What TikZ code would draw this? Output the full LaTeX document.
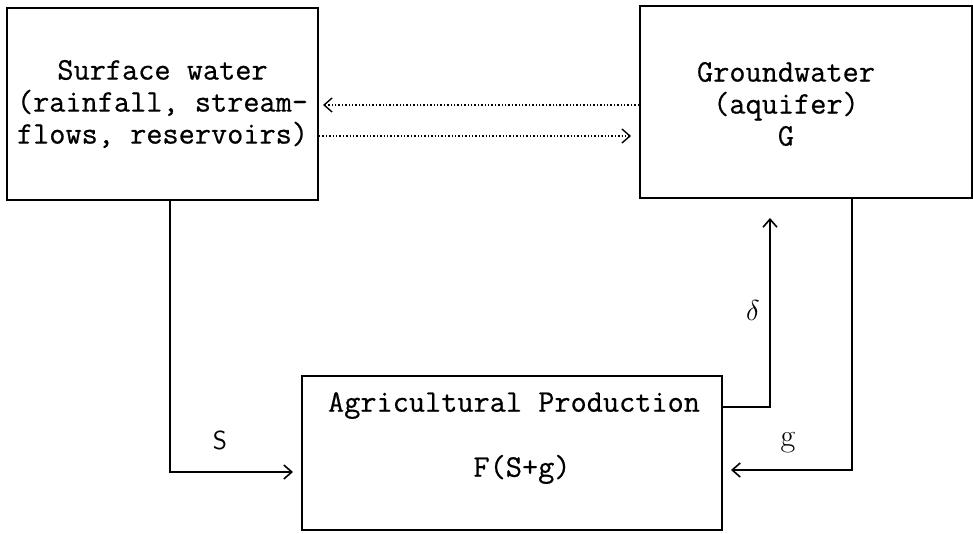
\documentclass[tikz,border=0pt]{standalone}
\usepackage{fontspec}
\usetikzlibrary{arrows.meta}

\newfontfamily\typewriter{Latin Modern Mono}[FakeBold=0.6]

\tikzset{
  box/.style={draw, line width=1pt, rectangle, inner sep=0pt},
  boxtext/.style={font=\fontsize{15.7}{16}\typewriter, align=center},
  flow/.style={line width=0.8pt, -{Straight Barb[length=4pt,width=7pt]}},
  seep/.style={flow, line width=0.7pt, densely dotted}
}

\begin{document}
\begin{tikzpicture}[x=0.5pt, y=-0.5pt]
        \useasboundingbox (0,0) rectangle (973,534);

        % Boxes
        \node[box, boxtext, minimum width=155.5pt, minimum height=96pt] (surface) at (162.5,104)
          {Surface water\\(rainfall, stream-\\flows, reservoirs)};
        \node[box, minimum width=166pt, minimum height=96pt] (gw) at (806,102) {};
        \node[boxtext] (gwtext) at (786,104) {Groundwater\\(aquifer)\\G};
        \node[box, minimum width=210pt, minimum height=77pt] (agri) at (512,453) {};
        \node[boxtext] (agritext) at (514,438) {Agricultural Production\\[16.5pt]\hspace*{8pt}F(S+g)};

        % Exchange between surface water and aquifer, dotted
        \draw[seep, shorten >=2pt] (gw.west |- 0,105) -- (surface.east |- 0,105);
        \draw[seep, shorten >=4pt] (surface.east |- 0,136) -- (gw.west |- 0,136);

        % Water use and percolation
        \draw[flow, shorten >=4pt] (surface.south -| 170,0) |- (agri.west |- 0,472);
        \draw[flow, shorten >=4pt] (gw.south -| 852,0) |- (agri.east |- 0,470);
        \draw[flow, shorten >=9.5pt] (agri.east |- 0,407) -| (gw.south -| 770,0);

        % Flow labels
        \node[font=\fontsize{13}{13}\sffamily] (slabel) at (220,440) {S};
        \node[font=\fontsize{16}{16}\rmfamily] (glabel) at (788,443) {g};
        \node[font=\fontsize{15}{15}\selectfont] (dlabel) at (753,310) {$\delta$};
\end{tikzpicture}
\end{document}
